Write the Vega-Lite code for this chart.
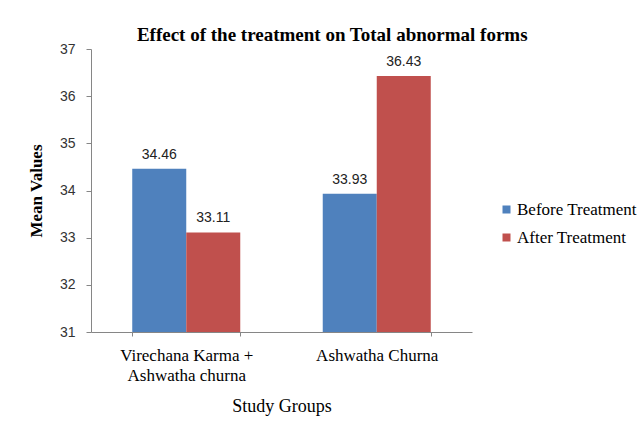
{
  "$schema": "https://vega.github.io/schema/vega-lite/v6.json",
  "width": 381,
  "height": 283,
  "autosize": {"type": "none"},
  "padding": {"left": 91, "top": 49, "right": 171, "bottom": 101},
  "background": "white",
  "title": {
    "text": "Effect of the treatment on Total abnormal forms",
    "font": "Liberation Serif",
    "fontSize": 19,
    "fontWeight": "bold",
    "color": "#000000",
    "anchor": "middle",
    "frame": "bounds",
    "offset": -3
  },
  "config": {
    "view": {"stroke": null},
    "axis": {"grid": false}
  },
  "data": {
    "values": [
      {"group": "Virechana Karma + Ashwatha churna", "series": "Before Treatment", "value": 34.46},
      {"group": "Virechana Karma + Ashwatha churna", "series": "After Treatment", "value": 33.11},
      {"group": "Ashwatha Churna", "series": "Before Treatment", "value": 33.93},
      {"group": "Ashwatha Churna", "series": "After Treatment", "value": 36.43}
    ]
  },
  "encoding": {
    "x": {
      "field": "group",
      "type": "nominal",
      "sort": null,
      "scale": {"paddingInner": 0.433, "paddingOuter": 0.2165},
      "axis": {
        "title": "Study Groups",
        "titleFont": "Liberation Serif",
        "titleFontSize": 18,
        "titleFontWeight": "normal",
        "titleColor": "#000000",
        "titlePadding": 14,
        "labelAngle": 0,
        "labelFont": "Liberation Serif",
        "labelFontSize": 17,
        "labelColor": "#000000",
        "labelPadding": 11,
        "labelLineHeight": 20,
        "labelExpr": "split(replace(datum.label, '+ ', '+|'), '|')",
        "tickBand": "extent",
        "tickSize": 4,
        "tickColor": "#868686",
        "domainColor": "#868686"
      }
    },
    "xOffset": {
      "field": "series",
      "type": "nominal",
      "sort": ["Before Treatment", "After Treatment"],
      "scale": {"paddingInner": 0, "paddingOuter": 0}
    },
    "y": {
      "field": "value",
      "type": "quantitative",
      "scale": {"domain": [31, 37], "zero": false, "nice": false},
      "axis": {
        "title": "Mean Values",
        "titleFont": "Liberation Serif",
        "titleFontSize": 17,
        "titleFontWeight": "bold",
        "titleColor": "#000000",
        "titlePadding": 14,
        "values": [31, 32, 33, 34, 35, 36, 37],
        "labelFont": "Liberation Sans",
        "labelFontSize": 14,
        "labelColor": "#333333",
        "labelPadding": 11,
        "tickSize": 5,
        "tickColor": "#868686",
        "domainColor": "#868686"
      }
    }
  },
  "layer": [
    {
      "mark": {"type": "bar", "clip": true},
      "encoding": {
        "color": {
          "field": "series",
          "type": "nominal",
          "sort": ["Before Treatment", "After Treatment"],
          "scale": {"range": ["#4F81BD", "#C0504D"]},
          "legend": {
            "title": null,
            "orient": "none",
            "legendX": 407,
            "legendY": 152,
            "symbolType": "square",
            "symbolSize": 64,
            "symbolStrokeWidth": 0,
            "labelFont": "Liberation Serif",
            "labelFontSize": 17,
            "labelColor": "#000000",
            "labelOffset": 2,
            "rowPadding": 10
          }
        }
      }
    },
    {
      "mark": {
        "type": "text",
        "baseline": "bottom",
        "dy": -7,
        "font": "Liberation Sans",
        "fontSize": 14,
        "color": "#222222"
      },
      "encoding": {
        "text": {"field": "value", "type": "quantitative", "format": ".2f"}
      }
    }
  ]
}
